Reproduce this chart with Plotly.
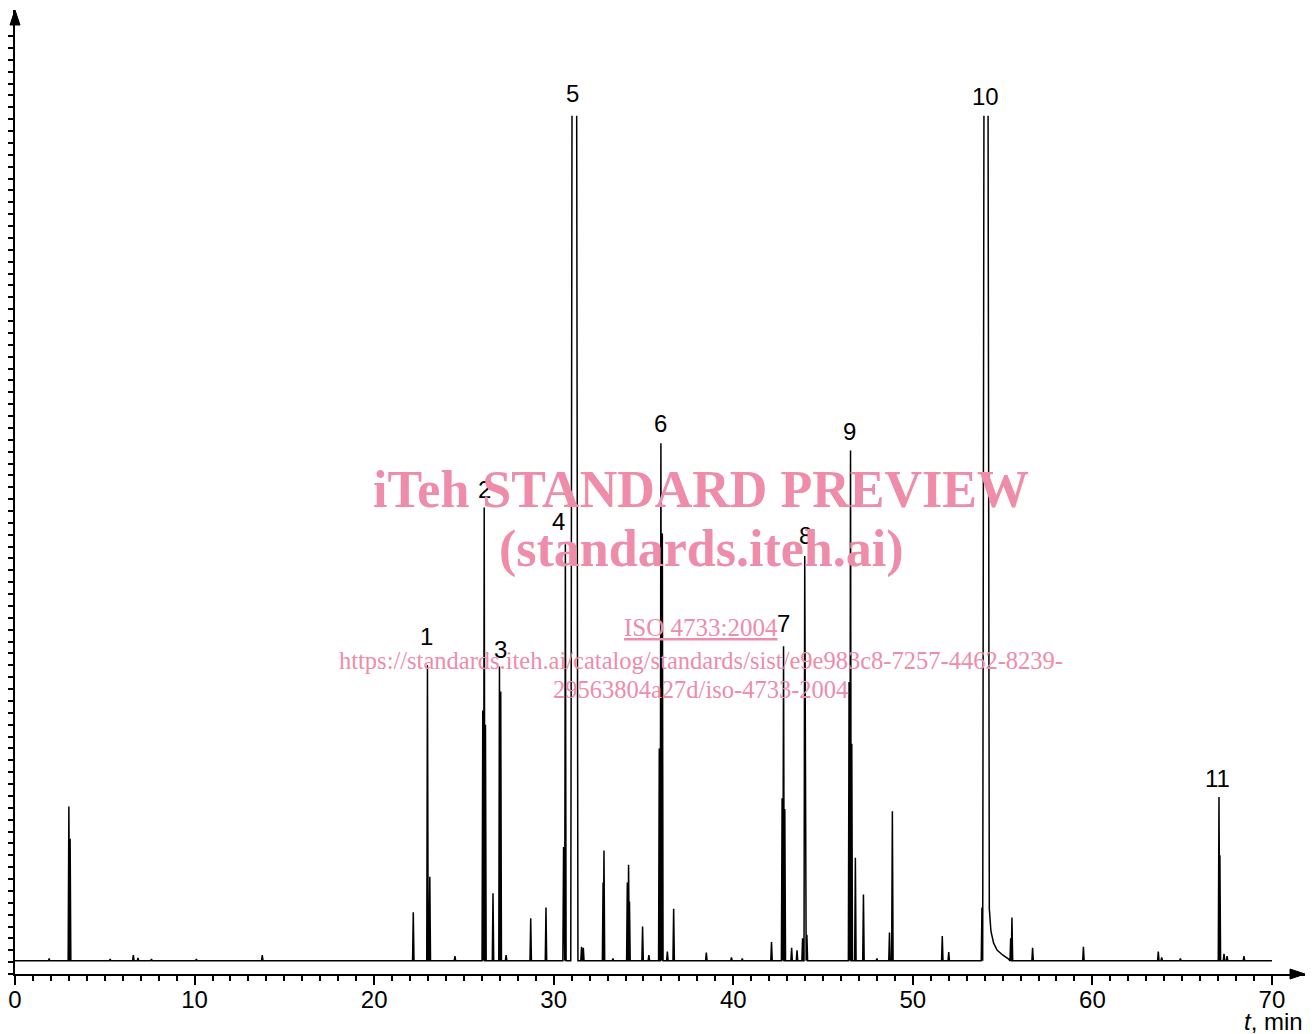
import plotly.graph_objects as go

# ---------------- data ----------------
# retention time (min), detector signal (arbitrary units: one minor y tick = 1 unit)
BASELINE = 1.12
SATURATION = 72.3
RUN_END = 70.0

peak_t = [1.9, 3.0, 3.07, 5.3, 6.59, 6.85, 7.6, 10.1, 13.77,
          22.18, 22.97, 23.1, 24.5,
          26.05, 26.13, 26.2, 26.62, 26.98, 27.05, 27.35,
          28.72, 29.57, 30.55, 30.65,
          31.55, 31.65, 32.75, 32.8, 33.3, 34.1, 34.17, 34.22, 34.95, 35.3,
          35.88, 35.97, 36.05, 36.33, 36.68, 38.5, 39.9, 40.5,
          42.13, 42.72, 42.8, 42.87, 43.25, 43.55, 43.86, 43.98, 44.1,
          46.45, 46.53, 46.6, 46.8, 47.25, 48.0, 48.7, 48.86,
          51.64, 52.0, 53.85,
          55.45, 55.52, 56.67, 59.5,
          63.67, 63.86, 64.9, 67.05, 67.1, 67.33, 67.5, 68.44]
peak_h = [1.3, 14.1, 11.4, 1.25, 1.6, 1.35, 1.25, 1.25, 1.6,
          5.2, 26.0, 8.2, 1.5,
          22.2, 39.3, 21.0, 6.8, 25.9, 23.8, 1.6,
          4.7, 5.6, 10.7, 36.2,
          2.3, 2.2, 7.7, 10.4, 1.3, 7.7, 9.2, 6.1, 4.0, 1.6,
          19.0, 44.7, 37.1, 1.9, 5.5, 1.8, 1.4, 1.3,
          2.7, 14.8, 27.6, 13.9, 2.2, 2.0, 3.0, 35.2, 3.3,
          24.6, 44.1, 19.4, 9.8, 6.7, 1.3, 3.5, 13.7,
          3.2, 1.85, 5.6,
          3.0, 4.76, 2.2, 2.3,
          1.9, 1.4, 1.3, 14.9, 10.0, 1.7, 1.5, 1.5]
PEAK_HALF_WIDTH = 0.04

# saturated (off-scale) peaks: start / end of the flat top
sat_start = [31.02, 53.96]
sat_end = [31.28, 54.19]
sat_edge = 0.07
# tailing after the saturated peak 10
tail10_t = [54.26, 54.35, 54.5, 54.7, 55.0, 55.3]
tail10_y = [5.5, 3.6, 2.6, 2.0, 1.6, 1.3]

# peak numbers and where they are printed
label_text = ["1", "2", "3", "4", "5", "6", "7", "8", "9", "10", "11"]
label_t = [22.89, 26.12, 27.01, 30.29, 31.02, 35.97, 42.82, 44.0, 46.5, 54.02, 66.94]
label_y = [28.4, 40.8, 27.3, 38.1, 74.2, 46.4, 29.5, 36.9, 45.7, 73.9, 16.5]

x_major = list(range(0, 71, 10))
x_minor = list(range(0, 71, 1))
y_major = list(range(0, 80, 8))
y_minor = list(range(0, 80, 1))

# ---------------- build the trace ----------------
w = PEAK_HALF_WIDTH
segments = []
for t, h in zip(peak_t, peak_h):
    segments.append((t - w, [(t - w, BASELINE), (t, h), (t + w, BASELINE)]))
for k, (a, b) in enumerate(zip(sat_start, sat_end)):
    pts = [(a - sat_edge, BASELINE), (a, SATURATION), (None, None), (b, SATURATION)]
    if k == 1:
        pts += list(zip(tail10_t, tail10_y)) + [(tail10_t[-1] + 0.1, BASELINE)]
    else:
        pts += [(b + sat_edge, BASELINE)]
    segments.append((a - sat_edge, pts))
segments.sort(key=lambda s: s[0])

xs, ys = [0.0], [BASELINE]
for _, pts in segments:
    for px, py in pts:
        xs.append(px)
        ys.append(py)
xs.append(RUN_END)
ys.append(BASELINE)

fig = go.Figure()
fig.add_trace(go.Scatter(x=xs, y=ys, mode="lines", connectgaps=False,
                         line=dict(color="black", width=1.5),
                         hoverinfo="skip", showlegend=False))

# ---------------- layout ----------------
# the page body adds an 8 px margin, so the figure is drawn 8 px in from the window edge
OFF = 8
W, H = 1316 - OFF, 1034 - OFF
# plot area in window pixels: left 15, right 1305, top 10, bottom 974
SL, SR, ST, SB = 15, 1305, 10, 974
ML, MT = SL - OFF, ST - OFF
MR, MB = W - (SR - OFF), H - (SB - OFF)
PW, PH = SR - SL, SB - ST


def px_x(x):
    return (x - SL) / PW


def px_y(y):
    return (SB - y) / PH


X_MAX = 71.84
Y_MAX = 81.2

sans = "Liberation Sans, Arial, sans-serif"
serif = "Liberation Serif, Times New Roman, serif"
pink = "rgb(238,140,170)"

annotations = []
for txt, t, y in zip(label_text, label_t, label_y):
    annotations.append(dict(x=t, y=y, xref="x", yref="y", text=txt, showarrow=False,
                            xanchor="center", yanchor="middle",
                            font=dict(family=sans, size=24, color="black")))

annotations.append(dict(x=1.0, y=px_y(1021), xref="paper", yref="paper",
                        text="<i>t</i>, min", showarrow=False, xanchor="right", yanchor="middle",
                        font=dict(family=sans, size=24, color="black")))

wm = [
    ("<b>iTeh STANDARD PREVIEW</b>", 489, 52),
    ("<b>(standards.iteh.ai)</b>", 549, 52),
    ("<u>ISO 4733:2004</u>", 627, 25),
    ("https://standards.iteh.ai/catalog/standards/sist/e9e983c8-7257-4462-8239-", 660, 24.5),
    ("29563804a27d/iso-4733-2004", 690, 24.5),
]
for txt, yp, fs in wm:
    annotations.append(dict(x=px_x(700.5), y=px_y(yp), xref="paper", yref="paper",
                            text=txt, showarrow=False, xanchor="center", yanchor="middle",
                            font=dict(family=serif, size=fs, color=pink)))

# arrow heads on the axes
ax_len, ax_half = 15, 5
shapes = [
    dict(type="path", xref="paper", yref="paper",
         path=f"M {px_x(SR - ax_len)} {-ax_half / PH} L 1 0 L {px_x(SR - ax_len)} {ax_half / PH} Z",
         fillcolor="black", line=dict(color="black", width=1)),
    dict(type="path", xref="paper", yref="paper",
         path=f"M {-ax_half / PW} {px_y(ST + ax_len)} L 0 1 L {ax_half / PW} {px_y(ST + ax_len)} Z",
         fillcolor="black", line=dict(color="black", width=1)),
]

fig.update_layout(
    width=W, height=H,
    margin=dict(l=ML, r=MR, t=MT, b=MB, pad=0, autoexpand=False),
    paper_bgcolor="white", plot_bgcolor="white",
    annotations=annotations, shapes=shapes,
    xaxis=dict(range=[0, X_MAX], showline=True, linecolor="black", linewidth=2,
               automargin=False,
               showgrid=False, zeroline=False, ticks="outside", tickmode="array",
               tickvals=x_major, ticktext=[str(v) for v in x_major],
               ticklen=9, tickwidth=2, tickcolor="black", ticklabelstandoff=-6,
               tickfont=dict(family=sans, size=24, color="black"),
               minor=dict(tickmode="array", tickvals=x_minor, ticks="outside",
                          ticklen=5, tickwidth=2, tickcolor="black", showgrid=False)),
    yaxis=dict(range=[0, Y_MAX], showline=True, linecolor="black", linewidth=2,
               automargin=False,
               showgrid=False, zeroline=False, ticks="outside", tickmode="array",
               tickvals=y_major, showticklabels=False,
               ticklen=9, tickwidth=2, tickcolor="black",
               minor=dict(tickmode="array", tickvals=y_minor, ticks="outside",
                          ticklen=5, tickwidth=2, tickcolor="black", showgrid=False)),
)

fig.write_html("out.html")
